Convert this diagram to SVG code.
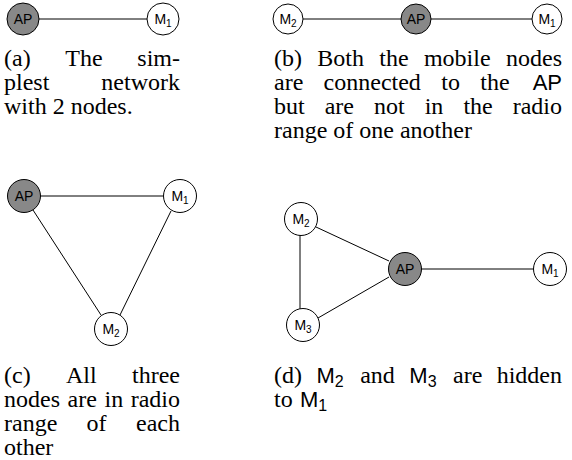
<svg xmlns="http://www.w3.org/2000/svg" width="572" height="460" viewBox="0 0 572 460">
<style>
.n{fill:#fff;stroke:#000;stroke-width:1}
.ap{fill:#888;stroke:#000;stroke-width:1}
.lb{font-family:"Liberation Sans",Arial,sans-serif;font-size:14px;fill:#000;text-anchor:middle}
.sub{font-size:10px}
.cap{font-family:"Liberation Serif","Times New Roman",serif;font-size:24px;fill:#000}
.sf{font-family:"Liberation Sans",Arial,sans-serif;font-size:22px}
.ss{font-family:"Liberation Sans",Arial,sans-serif;font-size:16px}
.e{stroke:#000;stroke-width:1;fill:none}
</style>
<g id="connectors">
  <line class="e" x1="39" y1="19" x2="147" y2="19"/>
  <line class="e" x1="303" y1="19" x2="401" y2="19"/>
  <line class="e" x1="431" y1="19" x2="532" y2="19"/>
  <line class="e" x1="40" y1="196" x2="163" y2="196"/>
  <line class="e" x1="33" y1="210" x2="101" y2="315"/>
  <line class="e" x1="171" y1="211" x2="120" y2="315"/>
  <line class="e" x1="316" y1="227" x2="389" y2="261"/>
  <line class="e" x1="300" y1="235" x2="300" y2="309"/>
  <line class="e" x1="318" y1="318" x2="389" y2="277"/>
  <line class="e" x1="421" y1="269" x2="534" y2="269"/>
</g>
<g id="a-AP"><circle class="ap" cx="23" cy="19" r="16"/><text class="lb" x="23" y="24">AP</text></g>
<g id="a-M1"><circle class="n" cx="163" cy="19" r="16"/><text class="lb" x="163" y="24">M<tspan class="sub" dy="3">1</tspan></text></g>
<g id="b-M2"><circle class="n" cx="288" cy="19" r="15"/><text class="lb" x="288" y="24">M<tspan class="sub" dy="3">2</tspan></text></g>
<g id="b-AP"><circle class="ap" cx="416" cy="19" r="15"/><text class="lb" x="416" y="24">AP</text></g>
<g id="b-M1"><circle class="n" cx="547" cy="19" r="15"/><text class="lb" x="547" y="24">M<tspan class="sub" dy="3">1</tspan></text></g>
<g id="c-AP"><circle class="ap" cx="24" cy="196" r="16.5"/><text class="lb" x="24" y="201">AP</text></g>
<g id="c-M1"><circle class="n" cx="180" cy="196" r="16.5"/><text class="lb" x="180" y="201">M<tspan class="sub" dy="3">1</tspan></text></g>
<g id="c-M2"><circle class="n" cx="111" cy="329" r="16.5"/><text class="lb" x="111" y="334">M<tspan class="sub" dy="3">2</tspan></text></g>
<g id="d-M2"><circle class="n" cx="301" cy="219" r="16.5"/><text class="lb" x="301" y="224">M<tspan class="sub" dy="3">2</tspan></text></g>
<g id="d-M3"><circle class="n" cx="303" cy="325" r="16.5"/><text class="lb" x="303" y="330">M<tspan class="sub" dy="3">3</tspan></text></g>
<g id="d-AP"><circle class="ap" cx="405" cy="269" r="16.5"/><text class="lb" x="405" y="274">AP</text></g>
<g id="d-M1"><circle class="n" cx="550" cy="269" r="16.5"/><text class="lb" x="550" y="274">M<tspan class="sub" dy="3">1</tspan></text></g>
<g id="captions" class="cap">
  <text y="66"><tspan x="4">(a)</tspan><tspan x="65.3">The</tspan><tspan x="180" text-anchor="end">sim-</tspan></text>
  <text y="90"><tspan x="4">plest</tspan><tspan x="180" text-anchor="end">network</tspan></text>
  <text x="4" y="114">with 2 nodes.</text>
  <text y="66"><tspan x="274">(b)</tspan><tspan x="317.3">Both</tspan><tspan x="379.3">the</tspan><tspan x="423.9">mobile</tspan><tspan x="562" text-anchor="end">nodes</tspan></text>
  <text y="90"><tspan x="274">are</tspan><tspan x="323.6">connected</tspan><tspan x="441.3">to</tspan><tspan x="480.3">the</tspan><tspan x="562" text-anchor="end" class="sf">AP</tspan></text>
  <text y="114"><tspan x="274">but</tspan><tspan x="324.7">are</tspan><tspan x="374">not</tspan><tspan x="424.7">in</tspan><tspan x="463.4">the</tspan><tspan x="562" text-anchor="end">radio</tspan></text>
  <text x="274" y="138">range of one another</text>
  <text y="383"><tspan x="4">(c)</tspan><tspan x="66">All</tspan><tspan x="180" text-anchor="end">three</tspan></text>
  <text y="407"><tspan x="4">nodes</tspan><tspan x="67.6">are</tspan><tspan x="104.5">in</tspan><tspan x="180" text-anchor="end">radio</tspan></text>
  <text y="431"><tspan x="4">range</tspan><tspan x="86.6">of</tspan><tspan x="180" text-anchor="end">each</tspan></text>
  <text x="4" y="455">other</text>
  <text y="383"><tspan x="274">(d)</tspan><tspan x="316.4" class="sf">M</tspan><tspan class="ss" dy="4">2</tspan><tspan x="360.2" dy="-4">and</tspan><tspan x="409.3" class="sf">M</tspan><tspan class="ss" dy="4">3</tspan><tspan x="453.1" dy="-4">are</tspan><tspan x="562" text-anchor="end">hidden</tspan></text>
  <text y="407"><tspan x="274">to</tspan><tspan x="300" class="sf">M</tspan><tspan class="ss" dy="4">1</tspan></text>
</g>
</svg>
